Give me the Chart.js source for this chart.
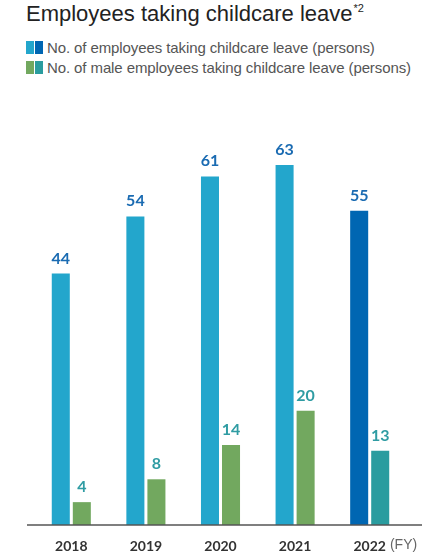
<!DOCTYPE html>
<html>
<head>
<meta charset="utf-8">
<script src="https://cdn.jsdelivr.net/npm/chart.js@4/dist/chart.umd.min.js"></script>
<style>
  html, body { margin: 0; padding: 0; background: #fff; }
  body { width: 446px; height: 556px; position: relative; overflow: hidden; font-family: "Liberation Sans", Arial, sans-serif; }
  .title { position: absolute; left: 26px; top: 1px; font-size: 22px; color: #222; white-space: nowrap; }
  .title sup { font-size: 11px; vertical-align: top; position: relative; top: 1px; margin-left: 1px; }
  .legend { position: absolute; left: 26px; font-size: 15px; color: #555; white-space: nowrap; display: flex; align-items: center; letter-spacing: -0.1px; }
  .legend .sw { display: inline-block; width: 8px; height: 13px; margin-right: 1px; }
  .legend .txt { margin-left: 3px; }
  #wrap { position: absolute; left: 0; top: 0; width: 446px; height: 556px; }
</style>
</head>
<body>
<div class="title">Employees taking childcare leave<sup>*2</sup></div>
<div class="legend" style="top:39px"><span class="sw" style="background:#23a6cc"></span><span class="sw" style="background:#0066b2"></span><span class="txt">No. of employees taking childcare leave (persons)</span></div>
<div class="legend" style="top:59px"><span class="sw" style="background:#72a85f"></span><span class="sw" style="background:#2a9c9f"></span><span class="txt">No. of male employees taking childcare leave (persons)</span></div>
<div id="wrap"><canvas id="chart"></canvas></div>
<script>
const years = ["2018", "2019", "2020", "2021", "2022"];
const allEmployees = [44, 54, 61, 63, 55];
const maleEmployees = [4, 8, 14, 20, 13];

// latest fiscal year is drawn in a darker shade
const allColors = ["#23a6cc", "#23a6cc", "#23a6cc", "#23a6cc", "#0066b2"];
const maleColors = ["#72a85f", "#72a85f", "#72a85f", "#72a85f", "#2a9c9f"];
const labelColors = ["#1a6bb2", "#2f9ca3"];

// value labels above each bar
const valueLabels = {
  id: "valueLabels",
  afterDatasetsDraw(chart) {
    const ctx = chart.ctx;
    ctx.save();
    ctx.font = "bold 16px Lato, sans-serif";
    ctx.textAlign = "center";
    ctx.textBaseline = "alphabetic";
    chart.data.datasets.forEach((ds, di) => {
      ctx.fillStyle = labelColors[di];
      chart.getDatasetMeta(di).data.forEach((bar, i) => {
        ctx.fillText(String(ds.data[i]), bar.x, bar.y - 10);
      });
    });
    ctx.restore();
  },
};

// baseline wider than the plot area, plus the "(FY)" unit after the last year
const axisExtras = {
  id: "axisExtras",
  afterDraw(chart) {
    const ctx = chart.ctx;
    const area = chart.chartArea;
    const x = chart.scales.x;
    ctx.save();
    ctx.strokeStyle = "#555";
    ctx.lineWidth = 1.5;
    ctx.beginPath();
    ctx.moveTo(area.left - 7, area.bottom);
    ctx.lineTo(area.right + 15, area.bottom);
    ctx.stroke();

    const last = years.length - 1;
    ctx.font = "bold 14px Lato, sans-serif";
    const w = ctx.measureText(years[last]).width;
    const px = x.getPixelForValue(last) + w / 2 + 4;
    ctx.font = "14px 'Liberation Sans', Arial, sans-serif";
    ctx.fillStyle = "#666";
    ctx.textAlign = "left";
    ctx.textBaseline = "middle";
    ctx.fillText("(FY)", px, area.bottom + 20);
    ctx.restore();
  },
};

new Chart(document.getElementById("chart"), {
  type: "bar",
  data: {
    labels: years,
    datasets: [
      { data: allEmployees, backgroundColor: allColors, borderWidth: 0 },
      { data: maleEmployees, backgroundColor: maleColors, borderWidth: 0 },
    ],
  },
  options: {
    responsive: true,
    maintainAspectRatio: false,
    animation: false,
    layout: { padding: { left: 34, right: 39, top: 125, bottom: 0 } },
    categoryPercentage: 0.564,
    barPercentage: 0.857,
    scales: {
      x: {
        grid: { display: false, drawTicks: false },
        border: { display: false },
        ticks: { color: "#333", font: { family: "Lato, sans-serif", size: 14, weight: "bold" }, padding: 13, maxRotation: 0 },
        afterFit: (s) => { s.height = 31; },
      },
      y: { display: false, min: 0, max: 70 },
    },
    plugins: { legend: { display: false }, tooltip: { enabled: false } },
  },
  plugins: [valueLabels, axisExtras],
});
</script>
</body>
</html>
